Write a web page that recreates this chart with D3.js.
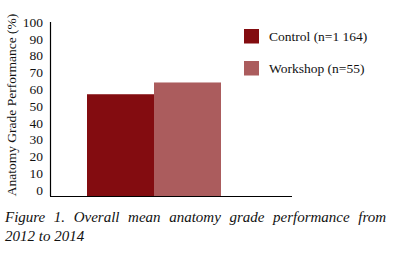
<!DOCTYPE html>
<html>
<head>
<meta charset="utf-8">
<script src="https://cdn.jsdelivr.net/npm/d3@7"></script>
<style>
  body { margin: 0; background: #fff; }
  #chart { position: relative; width: 394px; height: 253px; }
  .caption {
    position: absolute; left: 5px; width: 381px;
    font-family: "Liberation Serif", "Times New Roman", serif;
    font-style: italic; font-size: 15px; line-height: 19px;
    color: #111; white-space: nowrap;
  }
  .caption.first { text-align: justify; text-align-last: justify; }
</style>
</head>
<body>
<div id="chart"></div>
<script>
// values
var series = ['Control (n=1 164)', 'Workshop (n=55)'];
var values = [57, 64];
var colors = ['#830c10', '#ab5c5d'];
var yTicks = [0, 10, 20, 30, 40, 50, 60, 70, 80, 90, 100];
var captionLines = ['Figure 1. Overall mean anatomy grade performance from', '2012 to 2014'];

var width = 394, height = 253;
var baseline = 196;

var svg = d3.select('#chart').append('svg')
  .attr('width', width)
  .attr('height', height)
  .style('position', 'absolute')
  .style('left', 0).style('top', 0)
  .style('font-family', '"Liberation Serif", "Times New Roman", serif');

var y = d3.scaleLinear().domain([0, 100]).range([190, 22]);

var x = d3.scaleBand()
  .domain(series)
  .range([87, 221])
  .padding(0);

// bars
svg.selectAll('.bar')
  .data(values)
  .enter().append('rect')
  .attr('class', 'bar')
  .attr('x', function (d, i) { return x(series[i]); })
  .attr('y', function (d) { return y(d); })
  .attr('width', x.bandwidth())
  .attr('height', function (d) { return baseline - y(d); })
  .style('fill', function (d, i) { return colors[i]; });

// axis lines
svg.append('line')
  .attr('x1', 50.5).attr('x2', 50.5)
  .attr('y1', 22).attr('y2', baseline)
  .attr('stroke', '#000').attr('stroke-width', 1.2);
svg.append('line')
  .attr('x1', 50).attr('x2', 292)
  .attr('y1', baseline + 0.5).attr('y2', baseline + 0.5)
  .attr('stroke', '#000').attr('stroke-width', 1.2);

// tick labels
svg.selectAll('.tick')
  .data(yTicks)
  .enter().append('text')
  .attr('class', 'tick')
  .attr('x', 43)
  .attr('y', function (d) { return y(d); })
  .attr('dy', '0.35em')
  .attr('text-anchor', 'end')
  .style('font-size', '13.5px')
  .style('fill', '#111')
  .text(function (d) { return d; });

// y title
svg.append('text')
  .attr('transform', 'translate(16,105) rotate(-90)')
  .attr('text-anchor', 'middle')
  .style('font-size', '13.5px')
  .style('fill', '#111')
  .text('Anatomy Grade Performance (%)');

// legend
var legend = svg.selectAll('.legend')
  .data(series)
  .enter().append('g')
  .attr('class', 'legend')
  .attr('transform', function (d, i) { return 'translate(244,' + (29 + i * 32) + ')'; });

legend.append('rect')
  .attr('width', 15).attr('height', 14.5)
  .style('fill', function (d, i) { return colors[i]; });

legend.append('text')
  .attr('x', 25).attr('y', 7)
  .attr('dy', '0.35em')
  .style('font-size', '13.5px')
  .style('fill', '#111')
  .text(function (d) { return d; });

d3.select('#chart').selectAll('.caption')
  .data(captionLines)
  .enter().append('div')
  .attr('class', function (d, i) { return i === 0 ? 'caption first' : 'caption'; })
  .style('top', function (d, i) { return (208 + i * 19) + 'px'; })
  .text(function (d) { return d; });
</script>
</body>
</html>
